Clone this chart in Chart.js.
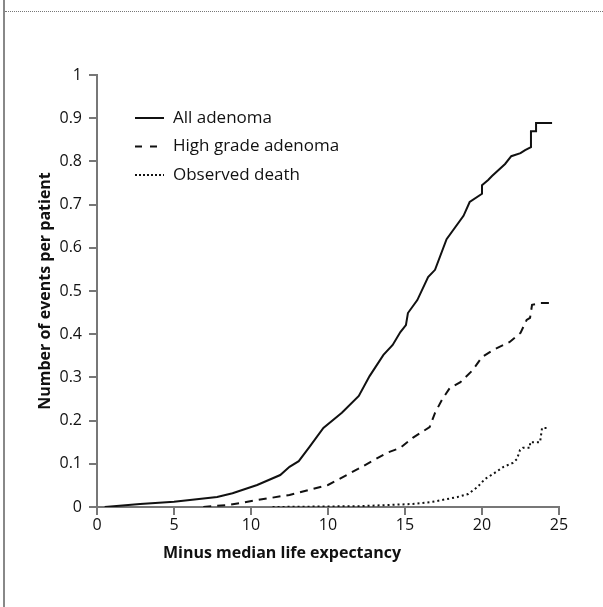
<!DOCTYPE html>
<html lang="en">
<head>
  <meta charset="UTF-8">
  <title>Number of events per patient</title>
  <script src="https://cdn.jsdelivr.net/npm/chart.js"></script>
  <style>
    body { margin: 0; background: #fff; font-family: "Open Sans", sans-serif; }
    #wrap { position: relative; width: 603px; height: 607px; overflow: hidden; }
    #leftRule { position: absolute; left: 3px; top: 0; height: 607px; border-left: 2px solid #888; }
    #topRule { position: absolute; left: 5px; right: 0; top: 11px; border-top: 1px dotted #777; }
    canvas { position: absolute; left: 0; top: 0; }
  </style>
</head>
<body>
  <div id="wrap">
    <div id="leftRule"></div>
    <div id="topRule"></div>
    <canvas id="eventsChart" width="603" height="607"></canvas>
  </div>

  <script>
    // tick labels (x ticks sit every 5 units, labelled as printed)
    const xTickLabels = ['0', '5', '10', '10', '15', '20', '25'];
    const yTickLabels = ['0', '0.1', '0.2', '0.3', '0.4', '0.5', '0.6', '0.7', '0.8', '0.9', '1'];

    const seriesNames = ['All adenoma', 'High grade adenoma', 'Observed death'];
    const xTitle = 'Minus median life expectancy';
    const yTitle = 'Number of events per patient';

    // All adenoma
    const allX = [0.5, 2.8, 5.0, 7.8, 8.8, 10.4, 11.9, 12.5, 13.1, 13.8, 14.7, 15.9, 17.0, 17.7, 18.6, 19.2, 19.7,
      20.06, 20.19, 20.8, 21.5, 21.95, 22.7, 23.8, 24.2, 25.0, 25.0, 25.4, 25.65, 26.5, 26.9, 27.5, 27.8, 28.18, 28.18,
      28.51, 28.51, 29.55];
    const allY = [0, 0.007, 0.012, 0.023, 0.032, 0.051, 0.074, 0.093, 0.106, 0.139, 0.183, 0.218, 0.257, 0.303, 0.352,
      0.375, 0.405, 0.421, 0.449, 0.479, 0.532, 0.549, 0.620, 0.674, 0.706, 0.725, 0.745, 0.757, 0.766, 0.794, 0.812,
      0.819, 0.826, 0.833, 0.870, 0.870, 0.889, 0.889];

    // High grade adenoma
    const highX = [6.9, 8.6, 10.4, 12.5, 15.0, 16.95, 18.8, 19.7, 20.5, 21.6, 21.95, 22.4, 22.9, 23.6, 24.4, 25.0,
      25.7, 26.8, 27.5, 27.9, 28.12, 28.25, 28.77, 29.6];
    const highY = [0, 0.005, 0.016, 0.028, 0.051, 0.088, 0.125, 0.137, 0.160, 0.185, 0.218, 0.248, 0.275, 0.289,
      0.317, 0.347, 0.363, 0.382, 0.403, 0.433, 0.438, 0.468, 0.472, 0.472];

    // Observed death
    const deathX = [11.4, 17.1, 20.5, 21.8, 23.4, 24.1, 24.7, 25.2, 25.7, 26.4, 27.0, 27.27, 27.47, 27.66, 28.12,
      28.12, 28.77, 28.9, 29.3];
    const deathY = [0, 0.002, 0.007, 0.012, 0.023, 0.030, 0.046, 0.065, 0.076, 0.093, 0.102, 0.111, 0.132, 0.137,
      0.137, 0.150, 0.150, 0.183, 0.183];

    const toPoints = (xs, ys) => xs.map((x, i) => ({ x, y: ys[i] }));

    const labelFont = '"Open Sans", sans-serif';

    // legend inside the plot plus both axis titles
    const extrasPlugin = {
      id: 'extras',
      afterDraw(chart) {
        const ctx = chart.ctx;
        ctx.save();
        chart.data.datasets.forEach((ds, i) => {
          const y = 118 + i * 28.5;
          ctx.strokeStyle = ds.borderColor;
          ctx.lineWidth = ds.borderWidth;
          ctx.setLineDash(ds.legendDash);
          ctx.beginPath();
          ctx.moveTo(135, y);
          ctx.lineTo(164, y);
          ctx.stroke();
          ctx.setLineDash([]);
          ctx.fillStyle = '#111';
          ctx.font = '17px ' + labelFont;
          ctx.textBaseline = 'middle';
          ctx.textAlign = 'left';
          ctx.fillText(ds.label, 173, y);
        });

        ctx.font = 'bold 16px ' + labelFont;
        ctx.fillStyle = '#111';
        ctx.textAlign = 'center';
        ctx.textBaseline = 'middle';
        ctx.fillText(xTitle, 282, 553);

        ctx.translate(45, 291);
        ctx.rotate(-Math.PI / 2);
        ctx.fillText(yTitle, 0, 0);
        ctx.restore();
      }
    };

    const axisColor = '#777';

    new Chart(document.getElementById('eventsChart'), {
      type: 'line',
      data: {
        datasets: [
          {
            label: seriesNames[0],
            data: toPoints(allX, allY),
            borderColor: '#111',
            borderWidth: 2,
            borderDash: [],
            legendDash: []
          },
          {
            label: seriesNames[1],
            data: toPoints(highX, highY),
            borderColor: '#111',
            borderWidth: 2,
            borderDash: [8, 6],
            legendDash: [7, 8]
          },
          {
            label: seriesNames[2],
            data: toPoints(deathX, deathY),
            borderColor: '#111',
            borderWidth: 2,
            borderDash: [2, 3],
            legendDash: [2, 2]
          }
        ]
      },
      options: {
        responsive: false,
        animation: false,
        events: [],
        elements: {
          point: { radius: 0 },
          line: { tension: 0, fill: false }
        },
        layout: { padding: { left: 0, right: 44, top: 75, bottom: 0 } },
        plugins: {
          legend: { display: false },
          tooltip: { enabled: false }
        },
        scales: {
          x: {
            type: 'linear',
            min: 0,
            max: 30,
            afterFit: scale => { scale.height = 100; },
            border: { color: axisColor, width: 2 },
            grid: { drawOnChartArea: false, color: axisColor, lineWidth: 2, tickLength: 8 },
            ticks: {
              stepSize: 5,
              padding: 1,
              color: '#111',
              font: { family: labelFont, size: 16 },
              maxRotation: 0,
              callback: (v) => xTickLabels[Math.round(v / 5)]
            }
          },
          y: {
            min: 0,
            max: 1,
            afterFit: scale => { scale.width = 97; },
            border: { color: axisColor, width: 2 },
            grid: { drawOnChartArea: false, color: axisColor, lineWidth: 2, tickLength: 8 },
            ticks: {
              stepSize: 0.1,
              padding: 7,
              color: '#111',
              font: { family: labelFont, size: 16 },
              callback: (v) => yTickLabels[Math.round(v * 10)]
            }
          }
        }
      },
      plugins: [extrasPlugin]
    });
  </script>
</body>
</html>
